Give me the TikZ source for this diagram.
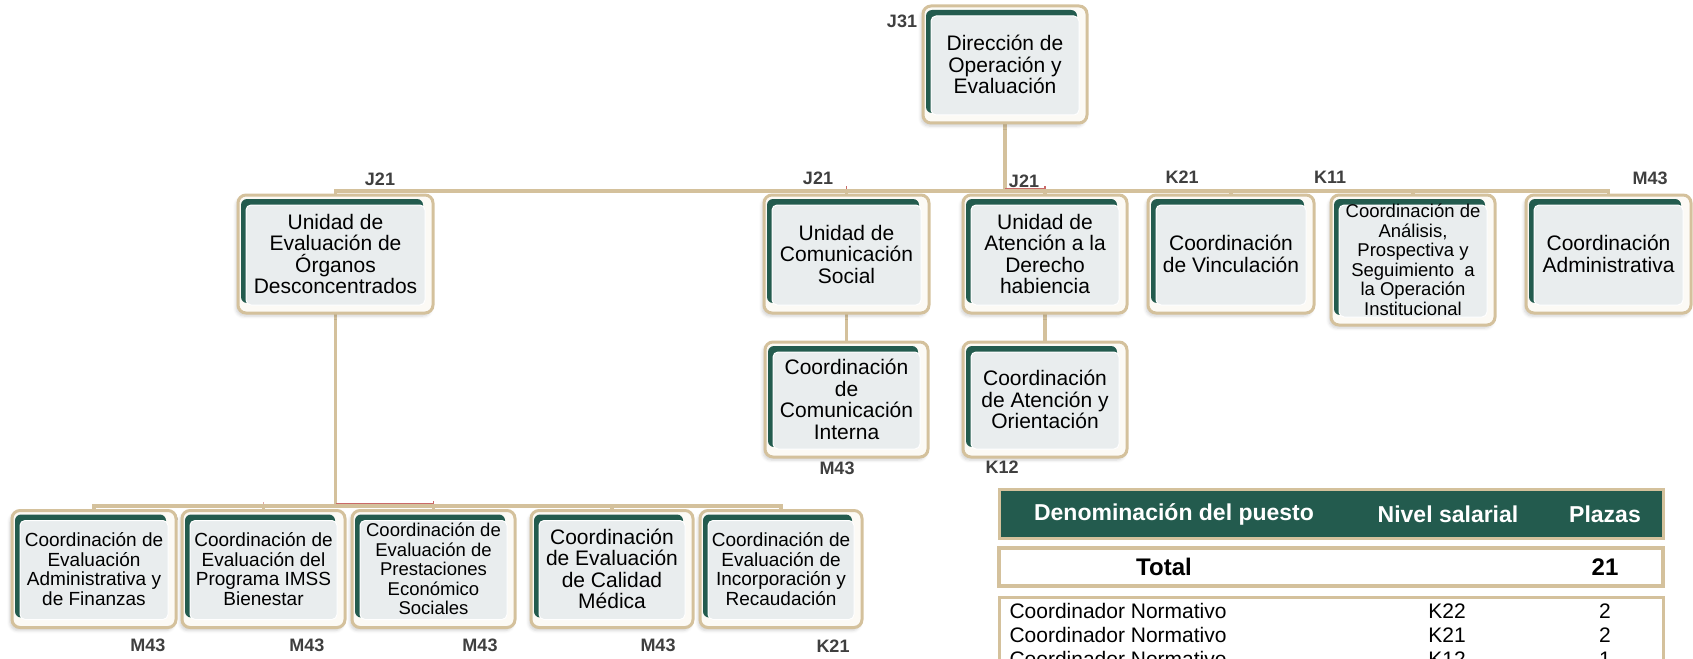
\documentclass[tikz,border=0pt]{standalone}
\usepackage{fontspec}
\setmainfont{Liberation Sans}
\usetikzlibrary{arrows.meta, positioning, backgrounds, shadows, shadows.blur, calc}
\definecolor{imssgreen}{HTML}{235B4E}
\definecolor{beigeline}{HTML}{D4C19C}
\definecolor{boxgray}{HTML}{E9EDEE}
\definecolor{creamfill}{HTML}{FCFAF5}
\definecolor{nivelgray}{HTML}{3F3F3F}
\definecolor{selred}{HTML}{C0504D}
\tikzset{
  unitbox/.style 2 args={
    rectangle, rounded corners=8pt,
    minimum width=#1, minimum height=#2, inner sep=0pt,
    align=center, text=black,
    draw=beigeline, line width=3pt, fill=creamfill,
    blur shadow={shadow xshift=-2pt, shadow yshift=-3pt,
                 shadow opacity=18, shadow blur radius=3pt},
    path picture={
      \fill[imssgreen, rounded corners=6pt]
        ([shift={(3,4)}]path picture bounding box.north west) rectangle
        ([shift={(-10,-10)}]path picture bounding box.south east);
      \filldraw[fill=boxgray, draw=white, line width=1pt, rounded corners=5pt]
        ([shift={(8,10)}]path picture bounding box.north west) rectangle
        ([shift={(-8,-8)}]path picture bounding box.south east);
    }
  },
  bigtxt/.style={font=\fontsize{21}{21.5}\selectfont},
  smalltxt/.style={font=\fontsize{19}{19.8}\selectfont},
  tinytxt/.style={font=\fontsize{18.5}{19.5}\selectfont},
  nivel/.style={font=\fontsize{18}{18}\selectfont\bfseries, text=nivelgray},
  linkline/.style={draw=beigeline, line width=3.5pt, line cap=rect},
  selline/.style={draw=selred!85, line width=1.2pt},
  tablebar/.style={
    rectangle, draw=beigeline, minimum width=664, inner sep=0pt
  },
  headcell/.style={font=\fontsize{23}{23}\selectfont\bfseries, text=white},
  totalcell/.style={font=\fontsize{24}{24}\selectfont\bfseries, text=black},
  rowcell/.style={font=\fontsize{21}{21}\selectfont, text=black},
}

\begin{document}
\begin{tikzpicture}[x=1pt, y=-1pt]
  \useasboundingbox (0,0) rectangle (1693,658);

  \node[unitbox={164}{117}, bigtxt] (dir) at (1005,64.5)
       {Dirección de\\Operación y\\Evaluación};

  \node[unitbox={195}{118}, bigtxt] (ueod) at (335.5,254)
       {Unidad de\\Evaluación de\\Órganos\\Desconcentrados};
  \node[unitbox={165}{118}, bigtxt] (ucs) at (846.5,254)
       {Unidad de\\Comunicación\\Social};
  \node[unitbox={164}{118}, bigtxt] (uadh) at (1045,254)
       {Unidad de\\Atención a la\\Derecho\\habiencia};
  \node[unitbox={166}{118}, bigtxt] (cvin) at (1231,254)
       {Coordinación\\de Vinculación};
  \node[unitbox={164}{130}, tinytxt] (capsoi) at (1413,260)
       {Coordinación de\\Análisis,\\Prospectiva y\\Seguimiento\ \ a\\la Operación\\Institucional};
  \node[unitbox={165}{118}, bigtxt] (cadm) at (1608.5,254)
       {Coordinación\\Administrativa};

  \node[unitbox={163}{115}, bigtxt] (ccomint) at (846.5,399.5)
       {Coordinación\\de\\Comunicación\\Interna};
  \node[unitbox={164}{115}, bigtxt] (caor) at (1045,399.5)
       {Coordinación\\de Atención y\\Orientación};

  \node[unitbox={164}{117}, smalltxt] (ceaf) at (94,569)
       {Coordinación de\\Evaluación\\Administrativa y\\de Finanzas};
  \node[unitbox={163}{117}, smalltxt] (cepib) at (263.5,569)
       {Coordinación de\\Evaluación del\\Programa IMSS\\Bienestar};
  \node[unitbox={163}{117}, tinytxt] (ceps) at (433.5,569)
       {Coordinación de\\Evaluación de\\Prestaciones\\Económico\\Sociales};
  \node[unitbox={162}{117}, bigtxt] (cecm) at (612,569)
       {Coordinación\\de Evaluación\\de Calidad\\Médica};
  \node[unitbox={162}{117}, smalltxt] (ceir) at (781,569)
       {Coordinación de\\Evaluación de\\Incorporación y\\Recaudación};

  \node[nivel] (nj31)  at (902,21)   {J31};
  \node[nivel] (nj21a) at (380,179)  {J21};
  \node[nivel] (nj21b) at (818,178)  {J21};
  \node[nivel] (nj21c) at (1024,181) {J21};
  \node[nivel] (nk21a) at (1182,177) {K21};
  \node[nivel] (nk11)  at (1330,177) {K11};
  \node[nivel] (nm43a) at (1650,178) {M43};
  \node[nivel] (nm43b) at (837,468)  {M43};
  \node[nivel] (nk12)  at (1002,467) {K12};
  \node[nivel] (nm43c) at (148,645)  {M43};
  \node[nivel] (nm43d) at (307,645)  {M43};
  \node[nivel] (nm43e) at (480,645)  {M43};
  \node[nivel] (nm43f) at (658,645)  {M43};
  \node[nivel] (nk21b) at (833,646)  {K21};

  \coordinate (bartop) at (0,191);
  \coordinate (barlow) at (0,506);
  \begin{scope}[on background layer]
    \draw[linkline] (dir.south) -- (dir.south |- bartop);
    \draw[linkline] (ueod.north |- bartop) -- (cadm.north |- bartop);
    \foreach \n in {ueod,ucs,uadh,cvin,capsoi,cadm}
      \draw[linkline] (\n.north |- bartop) -- (\n.north);
    \draw[linkline] (ucs.south) -- (ccomint.north);
    \draw[linkline] (uadh.south) -- (caor.north);
    \draw[linkline] (ueod.south) -- (ueod.south |- barlow);
    \draw[linkline] (ceaf.north |- barlow) -- (ceir.north |- barlow);
    \foreach \n in {ceaf,cepib,ceps,cecm,ceir}
      \draw[linkline] (\n.north |- barlow) -- (\n.north);
    \draw[selline] ([yshift=2.5]dir.south |- bartop) -- ([yshift=2.5]uadh.north |- bartop)
                   -- ([yshift=5]uadh.north |- bartop);
    \draw[selline] ([yshift=2]ucs.north |- bartop) -- ([yshift=5]ucs.north |- bartop);
    \draw[selline] ([yshift=2.5]ueod.south |- barlow) -- ([yshift=2.5]ceps.north |- barlow)
                   -- ([yshift=5]ceps.north |- barlow);
    \draw[selline, draw=selred!50] ([yshift=2]cepib.north |- barlow) -- ([yshift=4.5]cepib.north |- barlow);
  \end{scope}

  \node[tablebar, fill=imssgreen, line width=3pt, minimum height=49] (thead) at (1331,513.5) {};
  \node[headcell] (hden) at (1174,514) {Denominación del puesto};
  \node[headcell] (hniv) at (1448,514) {Nivel salarial};
  \node[headcell] (hpla) at (1605,514) {Plazas};
  \node[tablebar, fill=white, line width=4pt, minimum height=38] (ttot) at (1331,567) {};
  \node[totalcell] (ltot) at (1164,567) {Total};
  \node[totalcell] (vtot) at (1605,567) {21};
  \node[tablebar, line width=3pt, minimum height=130, anchor=north] (trows) at (1331,596) {};
  \foreach \niv/\pl [count=\i] in {K22/2, K21/2, K12/1} {
    \node[rowcell, anchor=west] (rpue\i) at (1006,587+24*\i) {Coordinador Normativo};
    \node[rowcell] (rniv\i) at (1447,587+24*\i) {\niv};
    \node[rowcell] (rpla\i) at (1605,587+24*\i) {\pl};
  }
\end{tikzpicture}
\end{document}
